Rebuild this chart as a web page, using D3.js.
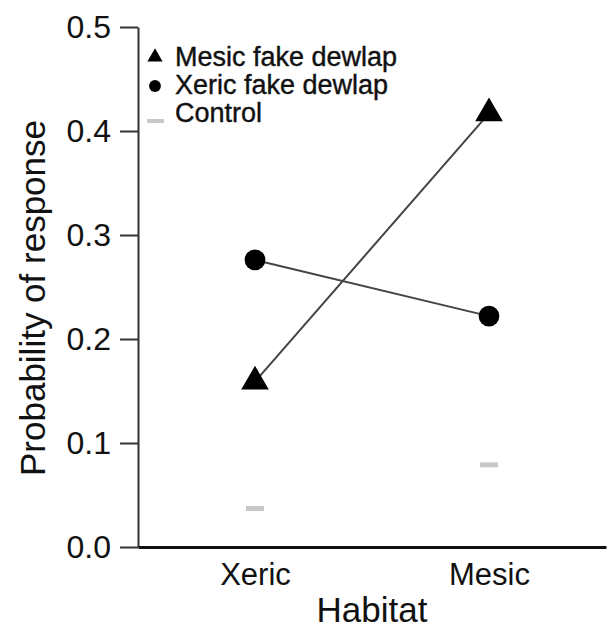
<!DOCTYPE html>
<html>
<head>
<meta charset="utf-8">
<script src="https://cdn.jsdelivr.net/npm/d3@7"></script>
<style>
  body { margin: 0; background: #fff; }
  svg { display: block; font-family: "Liberation Sans", Arial, sans-serif; }
</style>
</head>
<body>
<svg id="chart" width="608" height="631"></svg>
<script>
// habitat categories and response probabilities
var habitats = ["Xeric", "Mesic"];
var mesicDewlap = [0.159, 0.417];
var xericDewlap = [0.276, 0.222];
var control = [0.037, 0.079];
var yTicks = [0.0, 0.1, 0.2, 0.3, 0.4, 0.5];
var legendLabels = ["Mesic fake dewlap", "Xeric fake dewlap", "Control"];

var svg = d3.select("#chart");
var plotLeft = 138, plotRight = 606, plotTop = 27, plotBottom = 547;

var x = d3.scalePoint().domain(habitats).range([plotLeft, plotRight]).padding(0.5);
var y = d3.scaleLinear().domain([0, 0.5]).range([plotBottom, plotTop]);

// y axis
var yAxis = svg.append("g")
  .attr("transform", "translate(" + plotLeft + ",0)")
  .call(d3.axisLeft(y).tickValues(yTicks).tickFormat(d3.format(".1f"))
    .tickSize(18).tickSizeOuter(0).tickPadding(9));
yAxis.select(".domain").attr("stroke", "#333").attr("stroke-width", 2);
yAxis.selectAll(".tick line").attr("stroke", "#333").attr("stroke-width", 2);
yAxis.selectAll(".tick text").attr("font-size", 32).attr("fill", "#111")
  .attr("font-family", "Liberation Sans, Arial, sans-serif");

// x axis
var xAxis = svg.append("g")
  .attr("transform", "translate(0," + plotBottom + ")")
  .call(d3.axisBottom(x).tickSize(0).tickSizeOuter(0).tickPadding(16));
xAxis.select(".domain").attr("stroke", "#111").attr("stroke-width", 3);
xAxis.selectAll(".tick text").attr("font-size", 31).attr("fill", "#111")
  .attr("font-family", "Liberation Sans, Arial, sans-serif");

// axis titles
svg.append("text")
  .attr("x", 372).attr("y", 622)
  .attr("text-anchor", "middle")
  .attr("font-size", 35).attr("fill", "#111")
  .text("Habitat");

svg.append("text")
  .attr("transform", "translate(45,298) rotate(-90)")
  .attr("text-anchor", "middle")
  .attr("font-size", 35).attr("fill", "#111")
  .text("Probability of response");

// lines
var line = d3.line()
  .x(function(d, i){ return x(habitats[i]); })
  .y(function(d){ return y(d); });

[mesicDewlap, xericDewlap].forEach(function(s){
  svg.append("path")
    .attr("d", line(s))
    .attr("fill", "none")
    .attr("stroke", "#444")
    .attr("stroke-width", 2);
});

// control dashes
svg.selectAll(".ctrl").data(control).enter().append("rect")
  .attr("class", "ctrl")
  .attr("x", function(d, i){ return x(habitats[i]) - 9; })
  .attr("y", function(d){ return y(d) - 2.5; })
  .attr("width", 18).attr("height", 5)
  .attr("fill", "#c8c8c8");

// markers
var tri = d3.symbol().type(d3.symbolTriangle).size(330);
var circ = d3.symbol().type(d3.symbolCircle).size(340);

svg.selectAll(".circ").data(xericDewlap).enter().append("path")
  .attr("class", "circ")
  .attr("d", circ)
  .attr("transform", function(d, i){ return "translate(" + x(habitats[i]) + "," + y(d) + ")"; })
  .attr("fill", "#000");

svg.selectAll(".tri").data(mesicDewlap).enter().append("path")
  .attr("class", "tri")
  .attr("d", tri)
  .attr("transform", function(d, i){ return "translate(" + x(habitats[i]) + "," + y(d) + ")"; })
  .attr("fill", "#000");

// legend
var legend = svg.append("g").attr("transform", "translate(155,0)");
var rowY = [57, 86, 121];
var baseY = [66, 94, 122];

legend.append("path").attr("d", d3.symbol().type(d3.symbolTriangle).size(100)())
  .attr("transform", "translate(0," + rowY[0] + ")").attr("fill", "#000");
legend.append("path").attr("d", d3.symbol().type(d3.symbolCircle).size(110)())
  .attr("transform", "translate(0," + rowY[1] + ")").attr("fill", "#000");
legend.append("rect").attr("x", -8).attr("y", rowY[2] - 2).attr("width", 17).attr("height", 4)
  .attr("fill", "#c8c8c8");

legend.selectAll(".lt").data(legendLabels).enter().append("text")
  .attr("class", "lt")
  .attr("x", 20)
  .attr("y", function(d, i){ return baseY[i]; })
  .attr("font-size", 27).attr("fill", "#111")
  .attr("stroke", "#111").attr("stroke-width", 0.4)
  .text(function(d){ return d; });
</script>
</body>
</html>
